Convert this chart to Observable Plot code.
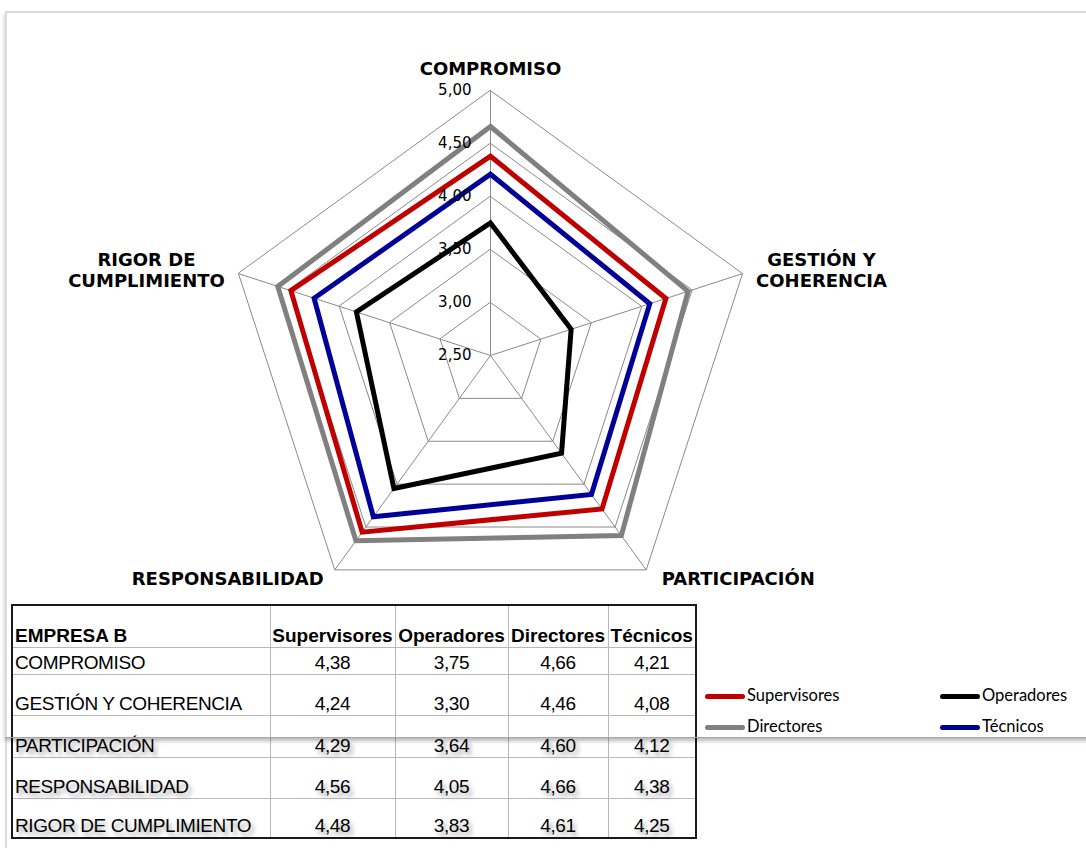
<!DOCTYPE html>
<html>
<head>
<meta charset="utf-8">
<script src="https://cdn.jsdelivr.net/npm/d3@7"></script>
<script src="https://cdn.jsdelivr.net/npm/@observablehq/plot@0.6"></script>
<style>
  html, body { margin: 0; padding: 0; background: #fff; }
  #page { position: relative; width: 1086px; height: 848px; overflow: hidden; background: #fff; }
  #chart { position: absolute; left: 0; top: 0; }
  #frame { position: absolute; left: 5px; top: 11px; width: 1110px; height: 724px;
           border-top: 2px solid #dcdcdc; border-bottom: 1px solid #a6a6a6;
           box-shadow: 0 3px 4px rgba(0,0,0,0.28); pointer-events: none; }
  #leftline { position: absolute; left: 5px; top: 11px; width: 2px; height: 837px; background: #dcdcdc; }
  table.data { position: absolute; left: 11px; top: 604px; border-collapse: collapse; table-layout: fixed;
               font-family: "Liberation Sans", Arial, sans-serif; font-size: 19px; color: #000;
               border: 2px solid #1a1a1a; }
  table.data td { border: 1px solid #b8b8b8; padding: 0 2px 2px 2px; vertical-align: bottom;
                  line-height: 1; white-space: nowrap; overflow: visible; letter-spacing: -0.4px; }
  table.data td.num { text-align: center; }
  table.data tr.head td { font-weight: bold; letter-spacing: 0; }
  table.data tr.shadow td { text-shadow: 3px 4px 4px rgba(0,0,0,0.35); }
  .leg { position: absolute; font-family: Lato, "Open Sans", sans-serif; font-size: 16.5px; color: #000; line-height: 1; }
  .legline { position: absolute; width: 40px; height: 5px; border-radius: 3px; }
</style>
</head>
<body>
<div id="page"></div>
<script>
// ---------- data ----------
const categories = ["COMPROMISO", "GESTIÓN Y COHERENCIA", "PARTICIPACIÓN", "RESPONSABILIDAD", "RIGOR DE CUMPLIMIENTO"];
const axisLabels = ["COMPROMISO", "GESTIÓN Y\nCOHERENCIA", "PARTICIPACIÓN", "RESPONSABILIDAD", "RIGOR DE\nCUMPLIMIENTO"];
const seriesNames = ["Supervisores", "Operadores", "Directores", "Técnicos"];
const supervisores = [4.38, 4.24, 4.29, 4.56, 4.48];
const operadores   = [3.75, 3.30, 3.64, 4.05, 3.83];
const directores   = [4.66, 4.46, 4.60, 4.66, 4.61];
const tecnicos     = [4.21, 4.08, 4.12, 4.38, 4.25];
const tickValues = [2.5, 3.0, 3.5, 4.0, 4.5, 5.0];
const ringValues = [3.0, 3.5, 4.0, 4.5, 5.0];
const tableTitle = "EMPRESA B";
const seriesColors = ["#C00000", "#000000", "#808080", "#000099"];

// ---------- helpers ----------
const rMin = 2.5, rMax = 5.0;
const n = categories.length;
const ang = i => i * 2 * Math.PI / n;
const px = (v, i) => (v - rMin) * Math.sin(ang(i));
const py = (v, i) => (v - rMin) * Math.cos(ang(i));
const fmt = v => d3.format(".2f")(v).replace(".", ",");

const seriesValues = [supervisores, operadores, directores, tecnicos];
const seriesData = seriesNames.flatMap((s, k) =>
  categories.map((c, i) => ({series: s, cat: c, i, v: seriesValues[k][i]})));
const ringData = ringValues.flatMap(r => categories.map((c, i) => ({ring: r, i})));
const spokeData = categories.map((c, i) => ({i}));

// pixel geometry: centre (490,355), 106 px per unit
const W = 1086, H = 600, k = 106, cx = 490, cy = 355;

const labelOffsets = [[0, -22], [79, -4], [92, 8], [-107, 8], [-92, -4]];

const marks = [
  Plot.line(ringData, {x: d => px(d.ring, d.i), y: d => py(d.ring, d.i), z: "ring",
    curve: "linear-closed", stroke: "#8a8a8a", strokeWidth: 1}),
  Plot.link(spokeData, {x1: () => 0, y1: () => 0, x2: d => px(rMax, d.i), y2: d => py(rMax, d.i),
    stroke: "#8a8a8a", strokeWidth: 1}),
  Plot.line(seriesData, {x: d => px(d.v, d.i), y: d => py(d.v, d.i), z: "series", stroke: "series",
    curve: "linear-closed", strokeWidth: 5, strokeLinejoin: "miter", strokeMiterlimit: 10}),
  Plot.text(tickValues, {x: () => 0, y: d => d - rMin, text: d => fmt(d), textAnchor: "end", dx: -19,
    fontSize: 15, fontFamily: "DejaVu Sans", fill: "#000"}),
  ...axisLabels.map((lab, i) => Plot.text([i], {
    x: j => px(rMax, j), y: j => py(rMax, j), text: j => axisLabels[j],
    dx: labelOffsets[i][0], dy: labelOffsets[i][1], textAnchor: "middle", lineHeight: 1.17,
    fontSize: 18, fontWeight: "bold", fontFamily: "DejaVu Sans", fill: "#000"}))
];

const chart = Plot.plot({
  width: W, height: H,
  marginLeft: 0, marginRight: 0, marginTop: 0, marginBottom: 0,
  x: {domain: [-cx / k, (W - cx) / k], axis: null},
  y: {domain: [-(H - cy) / k, cy / k], axis: null},
  color: {domain: seriesNames, range: seriesColors, legend: false},
  style: {background: "transparent", overflow: "visible"},
  marks
});
chart.id = "chart";

const page = document.getElementById("page");
const leftline = document.createElement("div"); leftline.id = "leftline";
page.appendChild(leftline);
page.appendChild(chart);

// ---------- table ----------
const colWidths = [258, 125, 113, 100, 88];
const rowHeights = [42, 27, 41, 42, 41, 40];
const table = document.createElement("table");
table.className = "data";
const cg = document.createElement("colgroup");
colWidths.forEach(w => { const c = document.createElement("col"); c.style.width = w + "px"; cg.appendChild(c); });
table.appendChild(cg);
const head = document.createElement("tr"); head.className = "head"; head.style.height = rowHeights[0] + "px";
[tableTitle, ...seriesNames].forEach((t, j) => {
  const td = document.createElement("td"); td.textContent = t;
  if (j > 0) { td.style.textAlign = "center"; td.style.padding = "0 0 2px 0"; }
  head.appendChild(td);
});
table.appendChild(head);
categories.forEach((c, i) => {
  const tr = document.createElement("tr"); tr.style.height = rowHeights[i + 1] + "px";
  if (i >= 2) tr.className = "shadow";
  const td0 = document.createElement("td"); td0.textContent = c; tr.appendChild(td0);
  seriesValues.forEach(arr => {
    const td = document.createElement("td"); td.className = "num"; td.textContent = fmt(arr[i]); tr.appendChild(td);
  });
  table.appendChild(tr);
});
page.appendChild(table);

// ---------- frame with shadow ----------
const frame = document.createElement("div"); frame.id = "frame";
page.appendChild(frame);

// ---------- legend ----------
const legPos = [[705, 696], [940, 696], [705, 727], [940, 727]];
seriesNames.forEach((s, j) => {
  const [lx, ly] = legPos[j];
  const line = document.createElement("div"); line.className = "legline";
  line.style.left = lx + "px"; line.style.top = (ly - 2.5) + "px"; line.style.background = seriesColors[j];
  page.appendChild(line);
  const t = document.createElement("div"); t.className = "leg"; t.textContent = s;
  t.style.left = (lx + 42) + "px"; t.style.top = (ly - 9) + "px";
  page.appendChild(t);
});
</script>
</body>
</html>
